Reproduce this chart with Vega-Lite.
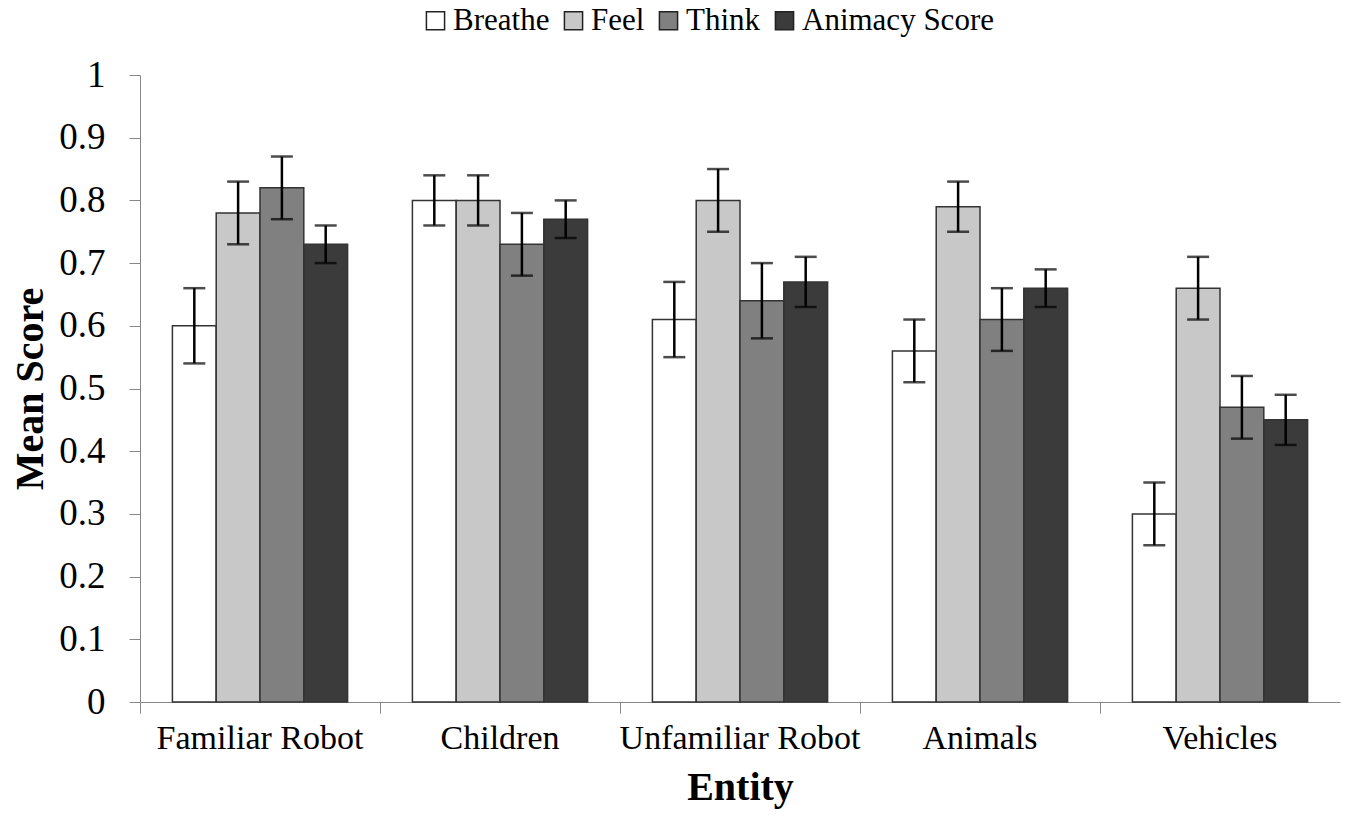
{
  "$schema": "https://vega.github.io/schema/vega-lite/v6.json",
  "width": 1200,
  "height": 627,
  "autosize": {"type": "none"},
  "padding": {"left": 140, "top": 75, "right": 17, "bottom": 117},
  "background": "white",
  "config": {
    "font": "Liberation Serif",
    "view": {"stroke": null},
    "axis": {"domainColor": "#888888", "tickColor": "#888888", "tickSize": 11, "grid": false, "labelColor": "black", "titleColor": "black", "labelFont": "Liberation Serif", "titleFont": "Liberation Serif", "labelLimit": 0}
  },
  "data": {
    "values": [
      {"entity": "Familiar Robot", "measure": "Breathe", "mean": 0.60, "lo": 0.54, "hi": 0.66},
      {"entity": "Familiar Robot", "measure": "Feel", "mean": 0.78, "lo": 0.73, "hi": 0.83},
      {"entity": "Familiar Robot", "measure": "Think", "mean": 0.82, "lo": 0.77, "hi": 0.87},
      {"entity": "Familiar Robot", "measure": "Animacy Score", "mean": 0.73, "lo": 0.70, "hi": 0.76},
      {"entity": "Children", "measure": "Breathe", "mean": 0.80, "lo": 0.76, "hi": 0.84},
      {"entity": "Children", "measure": "Feel", "mean": 0.80, "lo": 0.76, "hi": 0.84},
      {"entity": "Children", "measure": "Think", "mean": 0.73, "lo": 0.68, "hi": 0.78},
      {"entity": "Children", "measure": "Animacy Score", "mean": 0.77, "lo": 0.74, "hi": 0.80},
      {"entity": "Unfamiliar Robot", "measure": "Breathe", "mean": 0.61, "lo": 0.55, "hi": 0.67},
      {"entity": "Unfamiliar Robot", "measure": "Feel", "mean": 0.80, "lo": 0.75, "hi": 0.85},
      {"entity": "Unfamiliar Robot", "measure": "Think", "mean": 0.64, "lo": 0.58, "hi": 0.70},
      {"entity": "Unfamiliar Robot", "measure": "Animacy Score", "mean": 0.67, "lo": 0.63, "hi": 0.71},
      {"entity": "Animals", "measure": "Breathe", "mean": 0.56, "lo": 0.51, "hi": 0.61},
      {"entity": "Animals", "measure": "Feel", "mean": 0.79, "lo": 0.75, "hi": 0.83},
      {"entity": "Animals", "measure": "Think", "mean": 0.61, "lo": 0.56, "hi": 0.66},
      {"entity": "Animals", "measure": "Animacy Score", "mean": 0.66, "lo": 0.63, "hi": 0.69},
      {"entity": "Vehicles", "measure": "Breathe", "mean": 0.30, "lo": 0.25, "hi": 0.35},
      {"entity": "Vehicles", "measure": "Feel", "mean": 0.66, "lo": 0.61, "hi": 0.71},
      {"entity": "Vehicles", "measure": "Think", "mean": 0.47, "lo": 0.42, "hi": 0.52},
      {"entity": "Vehicles", "measure": "Animacy Score", "mean": 0.45, "lo": 0.41, "hi": 0.49}
    ]
  },
  "encoding": {
    "x": {
      "field": "entity", "type": "nominal",
      "sort": ["Familiar Robot", "Children", "Unfamiliar Robot", "Animals", "Vehicles"],
      "scale": {"paddingInner": 0, "paddingOuter": 0},
      "axis": {"title": "Entity", "labelAngle": 0, "labelFontSize": 34, "titleFontSize": 40, "titleFontWeight": "bold", "labelPadding": 8, "titlePadding": 12, "bandPosition": 0}
    },
    "xOffset": {
      "field": "measure", "type": "nominal",
      "sort": ["Breathe", "Feel", "Think", "Animacy Score"],
      "scale": {"paddingInner": 0, "paddingOuter": 0.74}
    }
  },
  "layer": [
    {
      "mark": {"type": "bar", "stroke": "#333333", "strokeWidth": 1.5},
      "encoding": {
        "y": {
          "field": "mean", "type": "quantitative",
          "scale": {"domain": [0, 1], "nice": false},
          "axis": {"title": "Mean Score", "values": [0, 0.1, 0.2, 0.3, 0.4, 0.5, 0.6, 0.7, 0.8, 0.9, 1], "format": "~g", "labelFontSize": 37, "titleFontSize": 40, "titleFontWeight": "bold", "labelPadding": 24, "titlePadding": 8}
        },
        "fill": {
          "field": "measure", "type": "nominal",
          "sort": ["Breathe", "Feel", "Think", "Animacy Score"],
          "scale": {"domain": ["Breathe", "Feel", "Think", "Animacy Score"], "range": ["#ffffff", "#c8c8c8", "#808080", "#3b3b3b"]},
          "legend": {
            "title": null, "orient": "none", "direction": "horizontal",
            "legendX": 280, "legendY": -70,
            "symbolType": "square", "symbolSize": 330, "symbolStrokeColor": "#222222", "symbolStrokeWidth": 1.5,
            "labelFontSize": 31, "labelFont": "Liberation Serif", "labelColor": "black", "labelOffset": 2, "columnPadding": 8, "labelLimit": 0
          }
        }
      }
    },
    {
      "mark": {"type": "rule", "color": "black", "strokeWidth": 2.5},
      "encoding": {
        "y": {"field": "lo", "type": "quantitative"},
        "y2": {"field": "hi"}
      }
    },
    {
      "mark": {"type": "tick", "color": "black", "size": 22, "thickness": 2.5, "orient": "horizontal"},
      "encoding": {"y": {"field": "lo", "type": "quantitative"}}
    },
    {
      "mark": {"type": "tick", "color": "black", "size": 22, "thickness": 2.5, "orient": "horizontal"},
      "encoding": {"y": {"field": "hi", "type": "quantitative"}}
    }
  ]
}
